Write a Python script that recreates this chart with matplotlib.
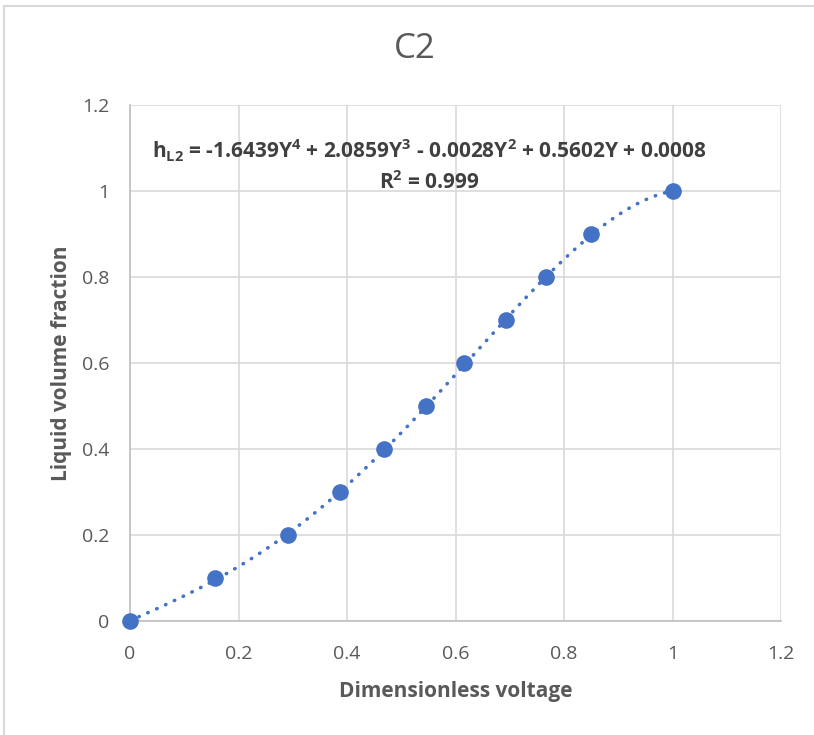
import numpy as np
import matplotlib.pyplot as plt
from matplotlib.patches import Rectangle

plt.rcParams['font.family'] = ['Open Sans', 'DejaVu Sans']
plt.rcParams['mathtext.fontset'] = 'custom'
plt.rcParams['mathtext.rm'] = 'Open Sans'
plt.rcParams['mathtext.bf'] = 'Open Sans:bold'

# measured points
voltage = [0, 0.156, 0.292, 0.387, 0.468, 0.546, 0.616, 0.693, 0.767, 0.849, 1.0]
fraction = [0, 0.1, 0.2, 0.3, 0.4, 0.5, 0.6, 0.7, 0.8, 0.9, 1.0]

# trendline coefficients (highest power first), from the chart label
coeffs = [-1.6439, 2.0859, -0.0028, 0.5602, 0.0008]

ticks = [0, 0.2, 0.4, 0.6, 0.8, 1, 1.2]
tick_labels = ['0', '0.2', '0.4', '0.6', '0.8', '1', '1.2']

blue = '#4472C4'
grey = '#595959'

fig = plt.figure(figsize=(8.14, 7.35), dpi=100)
ax = fig.add_axes([0.1597, 0.155, 0.80, 0.702])

xs = np.linspace(0, 1, 200)
ax.plot(xs, np.polyval(coeffs, xs), linestyle=(0, (0.1, 2.6)), color=blue, linewidth=2.6,
        dash_capstyle='round', zorder=2)
ax.scatter(voltage, fraction, s=120, color=blue, zorder=3, clip_on=False)

ax.set_xlim(0, 1.2)
ax.set_ylim(0, 1.2)
ax.set_xticks(ticks)
ax.set_xticklabels(tick_labels)
ax.set_yticks(ticks)
ax.set_yticklabels(tick_labels)
ax.tick_params(length=0, labelsize=14, colors=grey)
ax.tick_params(axis='x', pad=17)
ax.tick_params(axis='y', pad=15)
ax.grid(True, color='#D9D9D9', linewidth=1.2)
ax.set_axisbelow(True)
for side in ['top', 'right']:
    ax.spines[side].set_visible(False)
for side in ['left', 'bottom']:
    ax.spines[side].set_color('#BFBFBF')
    ax.spines[side].set_linewidth(1.2)

ax.set_xlabel('Dimensionless voltage', fontsize=15, fontweight='bold', color=grey, labelpad=13)
ax.set_ylabel('Liquid volume fraction', fontsize=15, fontweight='bold', color=grey, labelpad=7)
fig.text(0.509, 0.933, 'C2', fontsize=25, color=grey, ha='center', va='center')

eq = (r'h$_{\mathbf{L2}}$ = -1.6439Y$^{\mathbf{4}}$ + 2.0859Y$^{\mathbf{3}}$ - 0.0028Y$^{\mathbf{2}}$'
      r' + 0.5602Y + 0.0008')
ax.text(0.46, 0.912, eq, transform=ax.transAxes, ha='center', va='center',
        fontsize=15, fontweight='bold', color='#404040')
ax.text(0.46, 0.850, r'R$^{\mathbf{2}}$ = 0.999', transform=ax.transAxes, ha='center', va='center',
        fontsize=15, fontweight='bold', color='#404040')

fig.patches.append(Rectangle((0.005, -0.1), 1.2, 1.092, transform=fig.transFigure,
                             fill=False, edgecolor='#D9D9D9', linewidth=1.5))

fig.savefig('out.png', dpi=100)
